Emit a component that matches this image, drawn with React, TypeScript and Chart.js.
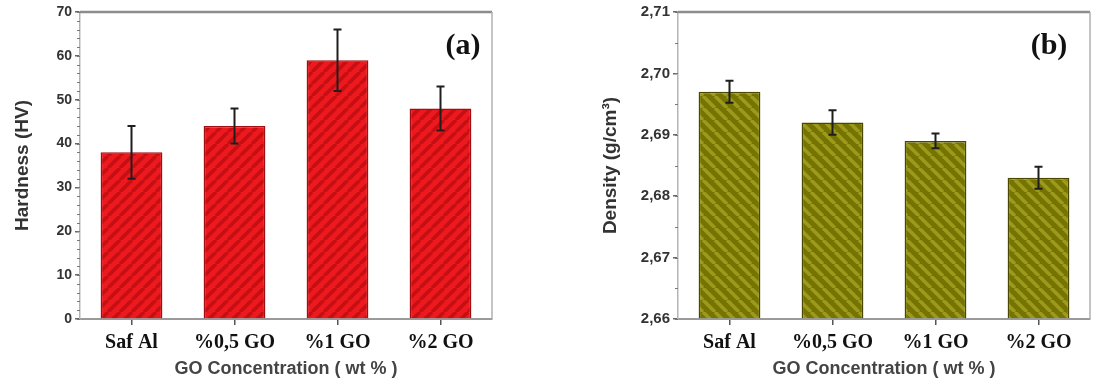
import React, { useEffect, useRef } from 'react';
import { Chart, registerables } from 'chart.js';
Chart.register(...registerables);

const categories = ['Saf Al', '%0,5 GO', '%1 GO', '%2 GO'];
const hardness = [38, 44, 59, 48];
const hardnessErr = [6, 4, 7, 5];
const density = [2.697, 2.692, 2.689, 2.683];
const densityErr = [0.0018, 0.002, 0.0012, 0.0018];
const hardnessTitle = 'Hardness (HV)';
const densityTitle = 'Density (g/cm³)';
const xTitle = 'GO Concentration ( wt % )';

function makePattern(base: string, stripe: string, dir: string) {
  const s = 12;
  const c = document.createElement('canvas');
  c.width = s;
  c.height = s;
  const g = c.getContext('2d')!;
  g.fillStyle = base;
  g.fillRect(0, 0, s, s);
  g.strokeStyle = stripe;
  g.lineWidth = 3.6;
  g.beginPath();
  for (const k of [-s, 0, s]) {
    if (dir === '/') {
      g.moveTo(k, s);
      g.lineTo(k + s, 0);
    } else {
      g.moveTo(k, 0);
      g.lineTo(k + s, s);
    }
  }
  g.stroke();
  return g.createPattern(c, 'repeat')!;
}

function decorPlugin(err: number[], vals: number[], label: string, minorStep: number, minorMin: number, minorMax: number, labelX: number) {
  return {
    id: 'decor',
    afterDatasetsDraw(chart: any) {
      const ctx = chart.ctx;
      const ys = chart.scales.y;
      const meta = chart.getDatasetMeta(0);
      const area = chart.chartArea;
      ctx.save();
      ctx.strokeStyle = '#1e1e1e';
      ctx.lineWidth = 2;
      meta.data.forEach((el: any, i: number) => {
        const x = el.x;
        const yt = ys.getPixelForValue(vals[i] + err[i]);
        const yb = ys.getPixelForValue(vals[i] - err[i]);
        ctx.beginPath();
        ctx.moveTo(x, yt);
        ctx.lineTo(x, yb);
        ctx.moveTo(x - 4, yt);
        ctx.lineTo(x + 4, yt);
        ctx.moveTo(x - 4, yb);
        ctx.lineTo(x + 4, yb);
        ctx.stroke();
      });
      ctx.strokeStyle = '#8c8c8c';
      ctx.lineWidth = 2.5;
      ctx.beginPath();
      ctx.moveTo(area.left, area.top);
      ctx.lineTo(area.right, area.top);
      ctx.stroke();
      ctx.strokeStyle = '#b0b0b0';
      ctx.lineWidth = 1.5;
      ctx.beginPath();
      ctx.moveTo(area.right, area.top);
      ctx.lineTo(area.right, area.bottom);
      ctx.stroke();
      ctx.strokeStyle = '#777';
      ctx.lineWidth = 1;
      const n = Math.round((minorMax - minorMin) / minorStep);
      for (let i = 0; i <= n; i++) {
        const y = Math.round(ys.getPixelForValue(minorMin + i * minorStep)) + 0.5;
        ctx.beginPath();
        ctx.moveTo(area.left - 3, y);
        ctx.lineTo(area.left, y);
        ctx.stroke();
      }
      ctx.fillStyle = '#111';
      ctx.font = 'bold 30px "Liberation Serif"';
      ctx.textAlign = 'center';
      ctx.textBaseline = 'middle';
      ctx.fillText(label, labelX, 46);
      ctx.restore();
    },
  };
}

function baseOptions(opts: any) {
  return {
    animation: false,
    responsive: false,
    maintainAspectRatio: false,
    layout: { padding: opts.padding },
    plugins: { legend: { display: false }, tooltip: { enabled: false } },
    scales: {
      x: {
        grid: { display: true, offset: false, drawOnChartArea: false, drawTicks: true, tickLength: 6, color: '#555', lineWidth: 1.5 },
        border: { display: true, color: '#9a9a9a', width: 2 },
        ticks: { font: { family: 'Liberation Serif', weight: 'bold', size: 20 }, color: '#111', padding: 6 },
        title: {
          display: true,
          text: xTitle,
          font: { family: 'Liberation Sans', weight: 'bold', size: 18 },
          color: '#444',
          padding: { top: 0, bottom: 7 },
        },
        afterFit: (s: any) => {
          s.height = 68;
        },
      },
      y: {
        min: opts.min,
        max: opts.max,
        grid: { display: true, drawOnChartArea: false, drawTicks: true, tickLength: 5, color: '#666', lineWidth: 1.5 },
        border: { display: true, color: '#b5b5b5', width: 1.5 },
        ticks: {
          stepSize: opts.step,
          font: { family: 'Liberation Sans', weight: 'bold', size: opts.tickSize },
          color: '#333',
          padding: 3,
          callback: opts.fmt,
        },
        title: {
          display: true,
          text: opts.title,
          font: { family: 'Liberation Sans', weight: 'bold', size: 19 },
          color: '#333',
          padding: { top: opts.titlePad, bottom: 0 },
        },
        afterFit: (s: any) => {
          s.width = opts.yWidth;
        },
      },
    },
  };
}

export default function App() {
  const leftRef = useRef<HTMLCanvasElement>(null);
  const rightRef = useRef<HTMLCanvasElement>(null);

  useEffect(() => {
    const red = makePattern('#ec1a1e', '#c40f15', '/');
    const olive = makePattern('#767400', '#9b9a1c', '\\');
    const c1 = new Chart(leftRef.current!, {
      type: 'bar',
      data: {
        labels: categories,
        datasets: [
          {
            data: hardness,
            backgroundColor: red,
            borderColor: '#a00d12',
            borderWidth: 1.5,
            barPercentage: 0.6,
            categoryPercentage: 1,
          },
        ],
      },
      options: baseOptions({
        padding: { left: 0, right: 48, top: 12, bottom: 0 },
        min: 0,
        max: 70,
        step: 10,
        tickSize: 14,
        fmt: (v: any) => String(v),
        title: hardnessTitle,
        titlePad: 11,
        yWidth: 80,
      }) as any,
      plugins: [decorPlugin(hardnessErr, hardness, '(a)', 2, 0, 70, 463)],
    });
    const c2 = new Chart(rightRef.current!, {
      type: 'bar',
      data: {
        labels: categories,
        datasets: [
          {
            data: density,
            base: 2.66,
            backgroundColor: olive,
            borderColor: '#4a4800',
            borderWidth: 1.5,
            barPercentage: 0.6,
            categoryPercentage: 1,
          } as any,
        ],
      },
      options: baseOptions({
        padding: { left: 0, right: 4, top: 12, bottom: 0 },
        min: 2.66,
        max: 2.71,
        step: 0.01,
        tickSize: 15,
        fmt: (v: any) => Number(v).toFixed(2).replace('.', ','),
        title: densityTitle,
        titlePad: 52,
        yWidth: 131,
      }) as any,
      plugins: [decorPlugin(densityErr, density, '(b)', 0.005, 2.66, 2.71, 1049 - 547)],
    });
    return () => {
      c1.destroy();
      c2.destroy();
    };
  }, []);

  return (
    <div style={{ position: 'absolute', left: 0, top: 0, width: 1094, height: 387, background: '#fff' }}>
      <canvas ref={leftRef} width={540} height={387} style={{ position: 'absolute', left: 0, top: 0, width: 540, height: 387 }} />
      <canvas ref={rightRef} width={547} height={387} style={{ position: 'absolute', left: 547, top: 0, width: 547, height: 387 }} />
    </div>
  );
}
